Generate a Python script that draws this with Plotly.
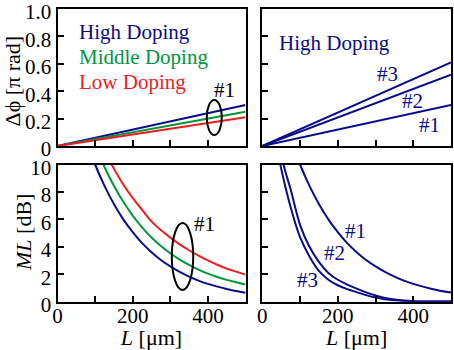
import plotly.graph_objects as go

# ---------------- data ----------------
# Top-left: phase shift vs length (straight lines)
L_phi = [0, 500]
phi_high = [0, 0.30]
phi_mid = [0, 0.25]
phi_low = [0, 0.21]

# Top-right: High doping, designs #1..#3
phi_d1 = [0, 0.30]
phi_d2 = [0, 0.52]
phi_d3 = [0, 0.61]

# Bottom-left: ML vs L
L_ml = [75, 100, 125, 150, 175, 200, 225, 250, 275, 300, 325, 350, 375, 400, 425, 450, 475, 500]
ml_high = [11.85, 10.0, 8.44, 7.12, 6.00, 5.07, 4.27, 3.61, 3.04, 2.57, 2.17, 1.83, 1.54, 1.30, 1.10, 0.93, 0.78, 0.66]
ml_mid = [13.5, 11.4, 9.82, 8.45, 7.28, 6.28, 5.42, 4.68, 4.06, 3.53, 3.07, 2.68, 2.34, 2.05, 1.80, 1.59, 1.42, 1.26]
ml_low = [15.0, 12.6, 11.0, 9.70, 8.54, 7.56, 6.70, 5.85, 5.22, 4.67, 4.18, 3.75, 3.36, 3.01, 2.69, 2.41, 2.19, 1.97]

# Bottom-right: High doping designs
L_d = [40, 45, 50, 55, 60, 75, 100, 125, 150, 175, 200, 225, 250, 275, 300, 325, 350, 375, 400, 450, 500]
ml_d1 = [None, None, None, None, None, 11.85, 10.0, 8.44, 7.12, 6.00, 5.07, 4.27, 3.61, 3.04, 2.57, 2.17, 1.83, 1.54, 1.30, 0.93, 0.66]
ml_d2 = [None, None, 11.0, 10.2, 9.6, 8.2, 5.6, 4.0, 2.9, 2.1, 1.6, 1.25, 0.95, 0.68, 0.45, 0.28, 0.16, 0.08, 0.04, 0.02, 0.02]
ml_d3 = [11.3, 10.4, 9.7, 9.1, 8.5, 6.9, 4.7, 3.3, 2.25, 1.6, 1.2, 0.92, 0.70, 0.48, 0.30, 0.18, 0.10, 0.05, 0.02, 0.01, 0.02]

x_ticks = [0, 100, 200, 300, 400, 500]
x_ticktext = ["0", "", "200", "", "400", ""]
phi_ticks = [0, 0.2, 0.4, 0.6, 0.8, 1.0]
phi_ticktext = ["0", "0.2", "0.4", "0.6", "0.8", "1.0"]
ml_ticks = [0, 2, 4, 6, 8, 10]
ml_ticktext = ["0", "2", "4", "6", "8", "10"]

# ---------------- style ----------------
BLUE = "#0a0a8c"
GREEN = "#00963c"
RED = "#ee1c1c"
FONT = "Liberation Serif"
LW = 2

fig = go.Figure()

def line(x, y, color, xa, ya, shape="linear"):
    fig.add_trace(go.Scatter(x=x, y=y, mode="lines", line=dict(color=color, width=LW, shape=shape),
                             xaxis=xa, yaxis=ya, showlegend=False, hoverinfo="skip"))

line(L_phi, phi_high, BLUE, "x", "y")
line(L_phi, phi_mid, GREEN, "x", "y")
line(L_phi, phi_low, RED, "x", "y")
line(L_phi, phi_d1, BLUE, "x2", "y2")
line(L_phi, phi_d2, BLUE, "x2", "y2")
line(L_phi, phi_d3, BLUE, "x2", "y2")
line(L_ml, ml_low, RED, "x3", "y3", "spline")
line(L_ml, ml_mid, GREEN, "x3", "y3", "spline")
line(L_ml, ml_high, BLUE, "x3", "y3", "spline")
line(L_d, ml_d1, BLUE, "x4", "y4", "spline")
line(L_d, ml_d2, BLUE, "x4", "y4", "spline")
line(L_d, ml_d3, BLUE, "x4", "y4", "spline")

W, H = 454, 350
xl = [57.5 / W, 245.5 / W]
xr = [262.3 / W, 451.0 / W]
yt = [1 - 146 / H, 1 - 9 / H]
yb = [1 - 301.7 / H, 1 - 164.5 / H]

def xaxis(domain, anchor, show_labels, title=None):
    d = dict(domain=domain, anchor=anchor, range=[0, 500], tickmode="array", tickvals=x_ticks,
             ticktext=x_ticktext if show_labels else [""] * len(x_ticks),
             ticks="inside", ticklen=6, tickwidth=2, tickcolor="black",
             showline=True, linewidth=2, linecolor="black", mirror=True,
             showgrid=False, zeroline=False, fixedrange=True, automargin=False,
             ticklabeloverflow="allow", ticklabelstandoff=-6,
             tickfont=dict(family=FONT, size=21, color="black"))
    if title:
        d["title"] = dict(text=title, font=dict(family=FONT, size=22, color="black"), standoff=0)
    return d

def yaxis(domain, anchor, rng, vals, text, show_labels):
    d = dict(domain=domain, anchor=anchor, range=rng, tickmode="array", tickvals=vals,
             ticktext=text if show_labels else [""] * len(vals),
             ticks="inside", ticklen=6, tickwidth=2, tickcolor="black",
             showline=True, linewidth=2, linecolor="black", mirror=True,
             showgrid=False, zeroline=False, fixedrange=True, automargin=False,
             ticklabeloverflow="allow", ticklabelshift=3,
             tickfont=dict(family=FONT, size=21, color="black"))
    return d

fig.update_layout(
    width=W, height=H, margin=dict(l=0, r=0, t=0, b=0, autoexpand=False),
    paper_bgcolor="white", plot_bgcolor="white",
    xaxis=xaxis(xl, "y", False),
    yaxis=yaxis(yt, "x", [0, 1], phi_ticks, phi_ticktext, True),
    xaxis2=xaxis(xr, "y2", False),
    yaxis2=yaxis(yt, "x2", [0, 1], phi_ticks, phi_ticktext, False),
    xaxis3=xaxis(xl, "y3", True, "<i>L</i> [μm]"),
    yaxis3=yaxis(yb, "x3", [0, 10], ml_ticks, ml_ticktext, True),
    xaxis4=xaxis(xr, "y4", True, "<i>L</i> [μm]"),
    yaxis4=yaxis(yb, "x4", [0, 10], ml_ticks, ml_ticktext, False),
    showlegend=False,
)

# y-axis titles
fig.add_annotation(text="Δϕ [π rad]", x=12 / W, y=1 - 81.5 / H, xref="paper", yref="paper",
                   textangle=-90, showarrow=False, xanchor="center", yanchor="middle",
                   font=dict(family=FONT, size=22, color="black"))
fig.add_annotation(text="<i>ML</i> [dB]", x=23 / W, y=1 - 233 / H, xref="paper", yref="paper",
                   textangle=-90, showarrow=False, xanchor="center", yanchor="middle",
                   font=dict(family=FONT, size=22, color="black"))

def label(text, x, y, xa, ya, color, xanchor="center"):
    fig.add_annotation(text=text, x=x, y=y, xref=xa, yref=ya, showarrow=False,
                       xanchor=xanchor, yanchor="middle",
                       font=dict(family=FONT, size=21, color=color))

label("High Doping", 52, 0.83, "x", "y", BLUE, "left")
label("Middle Doping", 52, 0.65, "x", "y", GREEN, "left")
label("Low Doping", 52, 0.47, "x", "y", RED, "left")
label("#1", 443, 0.41, "x", "y", "black")
label("High Doping", 38, 0.75, "x2", "y2", BLUE, "left")
label("#3", 333, 0.525, "x2", "y2", BLUE)
label("#2", 398, 0.33, "x2", "y2", BLUE)
label("#1", 444, 0.153, "x2", "y2", BLUE)
label("#1", 392, 5.7, "x3", "y3", "black")
label("#1", 247, 5.12, "x4", "y4", BLUE)
label("#2", 190, 3.54, "x4", "y4", BLUE)
label("#3", 121, 1.59, "x4", "y4", BLUE)

fig.add_shape(type="circle", xref="x", yref="y", x0=397, x1=437, y0=0.08, y1=0.336,
              line=dict(color="black", width=2))
fig.add_shape(type="circle", xref="x3", yref="y3", x0=304, x1=361, y0=0.86, y1=5.73,
              line=dict(color="black", width=2))

fig.write_html("out.html", config={"displayModeBar": False}, post_script=(
    "document.body.style.margin='0';"
    "document.body.style.overflow='hidden';"
    "document.documentElement.style.overflow='hidden';"))
